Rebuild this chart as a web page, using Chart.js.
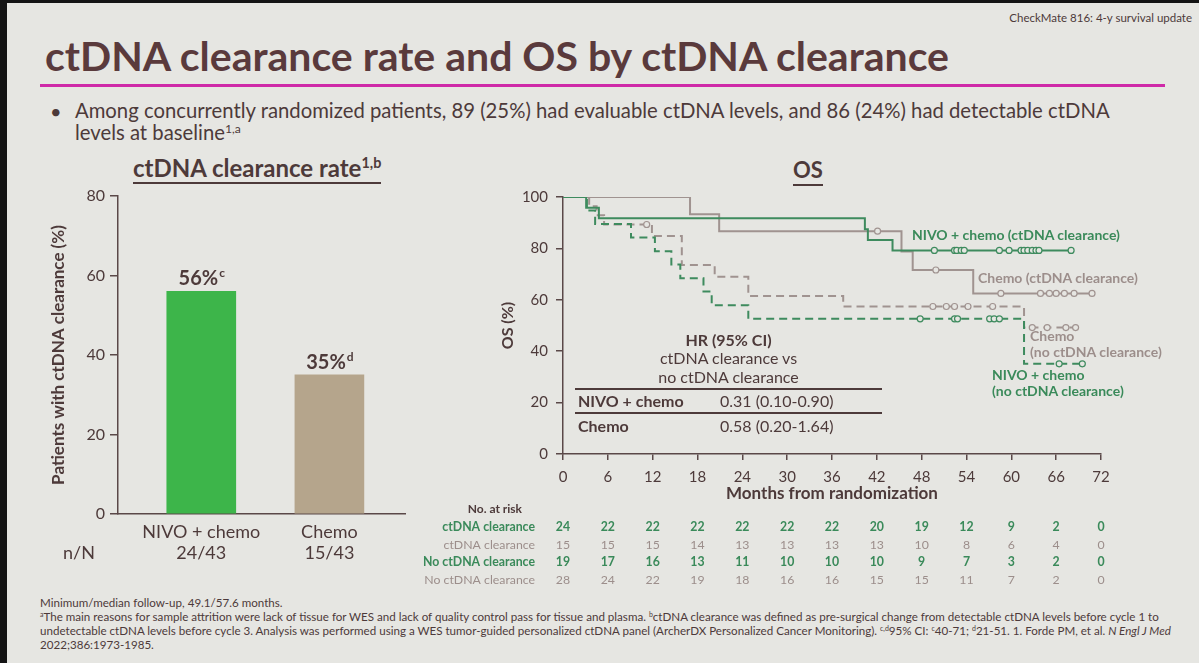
<!DOCTYPE html>
<html>
<head>
<meta charset="utf-8">
<script src="https://cdn.jsdelivr.net/npm/chart.js@4.4.0/dist/chart.umd.min.js"></script>
<style>
  body { margin: 0; width: 1199px; height: 663px; overflow: hidden; background: #141414; font-family: Lato, "Noto Sans", sans-serif; color: #4d3a3a; }
  #slide { position: absolute; left: 7px; top: 3px; width: 1192px; height: 660px; background: #e6e6e2; }
  .abs { position: absolute; white-space: nowrap; }
  sup { font-size: 0.6em; vertical-align: 0.6em; line-height: 0; }
  .green { color: #3a8a5a; }
  .gray { color: #9c8e8b; }
  .fn { position: absolute; left: 40px; white-space: nowrap; font-size: 11.6px; line-height: 14px; }
</style>
</head>
<body>
<div id="slide"></div>

<!-- header -->
<div class="abs" style="right:7px; top:11px; font-size:11.5px;">CheckMate 816: 4-y survival update</div>
<div class="abs" style="left:45px; top:32px; font-size:41px; line-height:48px; font-weight:bold; color:#5a3a3c;">ctDNA clearance rate and OS by ctDNA clearance</div>
<div class="abs" style="left:40px; top:84px; width:1125px; height:3px; background:#cf2aa8;"></div>
<div class="abs" style="left:50px; top:99px; font-size:20px;">•</div>
<div class="abs" style="left:75px; top:99px; font-size:20.3px; line-height:22px; white-space:normal; width:1050px;">Among concurrently randomized patients, 89 (25%) had evaluable ctDNA levels, and 86 (24%) had detectable ctDNA levels at baseline<sup>1,a</sup></div>

<!-- panel headings -->
<div class="abs" style="left:133px; top:153px; font-size:24px; font-weight:bold; border-bottom:2px solid #4d3a3a; padding-bottom:0;">ctDNA clearance rate<sup>1,b</sup></div>
<div class="abs" style="left:793px; top:156px; font-size:22px; font-weight:bold; border-bottom:2px solid #4d3a3a; padding-bottom:1px;">OS</div>

<!-- charts -->
<canvas id="barCanvas" class="abs" style="left:0; top:150px;" width="420" height="420"></canvas>
<canvas id="kmCanvas" class="abs" style="left:420px; top:180px;" width="779" height="420"></canvas>
<div class="abs" style="left:63px; top:541px; font-size:18px;">n/N</div>

<!-- curve labels -->
<div class="abs green" style="left:912px; top:226px; font-size:14px; font-weight:bold;">NIVO + chemo (ctDNA clearance)</div>
<div class="abs gray" style="left:978px; top:269px; font-size:14px; font-weight:bold;">Chemo (ctDNA clearance)</div>
<div class="abs gray" style="left:1030px; top:328px; font-size:14px; line-height:16px; font-weight:bold;">Chemo<br>(no ctDNA clearance)</div>
<div class="abs green" style="left:992px; top:367px; font-size:14px; line-height:16px; font-weight:bold;">NIVO + chemo<br>(no ctDNA clearance)</div>

<!-- HR table -->
<div class="abs" style="left:575px; top:330px; width:307px; height:110px; font-size:16px;">
  <div class="abs" style="left:0; width:307px; top:0; text-align:center; font-weight:bold;">HR (95% CI)</div>
  <div class="abs" style="left:0; width:307px; top:18px; text-align:center;">ctDNA clearance vs</div>
  <div class="abs" style="left:0; width:307px; top:37px; text-align:center;">no ctDNA clearance</div>
  <div class="abs" style="left:0; width:307px; top:58px; height:1.5px; background:#4d3a3a;"></div>
  <div class="abs" style="left:3px; top:61px; font-weight:bold;">NIVO + chemo</div>
  <div class="abs" style="left:145px; top:61px;">0.31 (0.10-0.90)</div>
  <div class="abs" style="left:0; width:307px; top:82px; height:1.5px; background:#4d3a3a;"></div>
  <div class="abs" style="left:3px; top:86px; font-weight:bold;">Chemo</div>
  <div class="abs" style="left:145px; top:86px;">0.58 (0.20-1.64)</div>
</div>

<!-- footnotes -->
<div class="fn" style="top:596px;">Minimum/median follow-up, 49.1/57.6 months.</div>
<div class="fn" style="top:610px;"><sup>a</sup>The main reasons for sample attrition were lack of tissue for WES and lack of quality control pass for tissue and plasma. <sup>b</sup>ctDNA clearance was defined as pre-surgical change from detectable ctDNA levels before cycle 1 to</div>
<div class="fn" style="top:624px;">undetectable ctDNA levels before cycle 3. Analysis was performed using a WES tumor-guided personalized ctDNA panel (ArcherDX Personalized Cancer Monitoring). <sup>c,d</sup>95% CI: <sup>c</sup>40-71; <sup>d</sup>21-51. 1. Forde PM, et al. <i>N Engl J Med</i></div>
<div class="fn" style="top:638px;">2022;386:1973-1985.</div>

<script>
// Colours
const textColor = '#4d3a3a';
const axisColor = '#5a4848';
const curveGreen = '#3e8b5e';
const curveGray = '#a09390';

// Bar chart data
const barCategories = ['NIVO + chemo', 'Chemo'];
const barCounts = ['24/43', '15/43'];
const barValues = [56, 35];
const barLabels = ['56%', '35%'];
const barLabelSups = ['c', 'd'];
const barColors = ['#3db54a', '#b5a58c'];

// KM curves (months, OS %)
const nivoClearT = [0, 3.1, 4.8, 40.4, 40.8, 44.1, 68];
const nivoClearS = [100, 95.8, 91.7, 87.5, 83.3, 79.2, 79.2];
const chemoClearT = [0, 17, 20.9, 45.3, 46.8, 54.9, 71];
const chemoClearS = [100, 93.3, 86.7, 78.8, 71.6, 62.5, 62.5];
const nivoNoT = [0, 3.2, 4.3, 9.1, 12.3, 14.5, 15.7, 18.8, 19.9, 24.8, 61.7, 69.5];
const nivoNoS = [100, 94.7, 89.5, 84.2, 78.9, 73.7, 68.4, 63.2, 57.9, 52.6, 35.1, 35.1];
const chemoNoT = [0, 3.5, 4.5, 5.5, 11.9, 15.9, 20.3, 24.8, 37.5, 61.7, 68.8];
const chemoNoS = [100, 96.4, 92.9, 89.3, 84.8, 73.5, 69.0, 61.5, 57.4, 49.2, 49.2];

// Censoring times
const nivoClearCens = [49.7, 52.4, 52.7, 53.3, 53.7, 58.4, 59.7, 61.3, 61.7, 62.2, 62.8, 63.3, 63.7, 68.0];
const chemoClearCens = [42.1, 49.9, 58.6, 63.9, 65.1, 66.0, 67.1, 68.4, 70.8];
const nivoNoCens = [47.8, 52.4, 52.8, 57.1, 57.7, 58.4, 66.4, 69.5];
const chemoNoCens = [11.2, 49.5, 51.3, 52.4, 54.2, 57.5, 62.8, 64.8, 67.3, 68.6];

// Number at risk
const riskTimes = [0, 6, 12, 18, 24, 30, 36, 42, 48, 54, 60, 66, 72];
const riskNivoClear = [24, 22, 22, 22, 22, 22, 22, 20, 19, 12, 9, 2, 0];
const riskChemoClear = [15, 15, 15, 14, 13, 13, 13, 13, 10, 8, 6, 4, 0];
const riskNivoNo = [19, 17, 16, 13, 11, 10, 10, 10, 9, 7, 3, 2, 0];
const riskChemoNo = [28, 24, 22, 19, 18, 16, 16, 15, 15, 11, 7, 2, 0];

// Value labels above bars
const barLabelPlugin = {
    id: 'barLabels',
    afterDatasetsDraw(chart) {
        const ctx = chart.ctx;
        const meta = chart.getDatasetMeta(0);
        ctx.save();
        ctx.fillStyle = textColor;
        ctx.textBaseline = 'alphabetic';
        meta.data.forEach((bar, i) => {
            ctx.font = 'bold 20px Lato';
            const w = ctx.measureText(barLabels[i]).width;
            ctx.font = 'bold 12px Lato';
            const ws = ctx.measureText(barLabelSups[i]).width;
            const x0 = bar.x - (w + ws) / 2;
            ctx.font = 'bold 20px Lato';
            ctx.textAlign = 'left';
            ctx.fillText(barLabels[i], x0, bar.y - 6);
            ctx.font = 'bold 12px Lato';
            ctx.fillText(barLabelSups[i], x0 + w + 1, bar.y - 14);
        });
        ctx.restore();
    }
};

new Chart(document.getElementById('barCanvas'), {
    type: 'bar',
    data: {
        datasets: [{
            data: barValues.map((v, i) => ({ x: i + 1, y: v })),
            backgroundColor: barColors,
            barThickness: 69
        }]
    },
    options: {
        responsive: false,
        animation: false,
        layout: { padding: { top: 46, right: 15, bottom: 0, left: 0 } },
        plugins: { legend: { display: false }, tooltip: { enabled: false } },
        scales: {
            x: {
                type: 'linear',
                min: 0.35,
                max: 2.59,
                offset: false,
                grid: { display: false, drawTicks: false },
                border: { color: axisColor, width: 1.5 },
                afterBuildTicks: s => { s.ticks = barCategories.map((c, i) => ({ value: i + 1 })); },
                ticks: {
                    callback: v => [barCategories[v - 1], barCounts[v - 1]],
                    color: textColor,
                    font: { family: 'Lato', size: 18 },
                    padding: 7,
                    autoSkip: false,
                    maxRotation: 0
                },
                afterFit: s => { s.height = 56; }
            },
            y: {
                min: 0,
                max: 80,
                ticks: { stepSize: 20, color: textColor, font: { family: 'Lato', size: 16 }, padding: 5 },
                grid: { drawOnChartArea: false, tickLength: 8, color: axisColor, lineWidth: 1.5 },
                border: { color: axisColor, width: 1.5 },
                title: {
                    display: true,
                    text: 'Patients with ctDNA clearance (%)',
                    color: textColor,
                    font: { family: 'Lato', size: 17, weight: 'bold' },
                    padding: { top: 48, bottom: 0 }
                },
                afterFit: s => { s.width = 118; }
            }
        }
    },
    plugins: [barLabelPlugin]
});

// Survival value at time t for a step curve
function survivalAt(times, surv, t) {
    let s = surv[0];
    times.forEach((tt, i) => { if (tt <= t) s = surv[i]; });
    return s;
}

function kmLine(times, surv, color, dash) {
    return {
        data: times.map((t, i) => ({ x: t, y: surv[i] })),
        borderColor: color,
        borderWidth: 2,
        borderDash: dash,
        stepped: true,
        pointRadius: 0,
        fill: false
    };
}

function censorSet(cens, times, surv, color) {
    return {
        data: cens.map(t => ({ x: t, y: survivalAt(times, surv, t) })),
        showLine: false,
        pointRadius: 3,
        pointBorderWidth: 1.2,
        pointBorderColor: color,
        pointBackgroundColor: '#e6e6e2'
    };
}

// Number at risk table under the x axis
const riskRows = [
    { label: 'ctDNA clearance', values: riskNivoClear, color: '#3a8a5a', bold: true },
    { label: 'ctDNA clearance', values: riskChemoClear, color: '#9c8e8b', bold: false },
    { label: 'No ctDNA clearance', values: riskNivoNo, color: '#3a8a5a', bold: true },
    { label: 'No ctDNA clearance', values: riskChemoNo, color: '#9c8e8b', bold: false }
];

const riskPlugin = {
    id: 'riskTable',
    afterDraw(chart) {
        const ctx = chart.ctx;
        const xs = chart.scales.x;
        ctx.save();
        ctx.textBaseline = 'middle';
        ctx.fillStyle = textColor;
        ctx.font = 'bold 12px Lato';
        ctx.textAlign = 'right';
        ctx.fillText('No. at risk', 102, 329);
        riskRows.forEach((row, r) => {
            const y = 347 + r * 17.7;
            ctx.fillStyle = row.color;
            ctx.font = (row.bold ? 'bold ' : '') + '12.3px Lato';
            ctx.textAlign = 'right';
            ctx.fillText(row.label, 115, y);
            ctx.textAlign = 'center';
            row.values.forEach((v, i) => ctx.fillText(v, xs.getPixelForValue(riskTimes[i]), y));
        });
        ctx.restore();
    }
};

new Chart(document.getElementById('kmCanvas'), {
    type: 'line',
    data: {
        datasets: [
            censorSet(nivoClearCens, nivoClearT, nivoClearS, curveGreen),
            censorSet(chemoClearCens, chemoClearT, chemoClearS, curveGray),
            censorSet(nivoNoCens, nivoNoT, nivoNoS, curveGreen),
            censorSet(chemoNoCens, chemoNoT, chemoNoS, curveGray),
            kmLine(nivoClearT, nivoClearS, curveGreen, []),
            kmLine(chemoClearT, chemoClearS, curveGray, []),
            kmLine(nivoNoT, nivoNoS, curveGreen, [8, 5]),
            kmLine(chemoNoT, chemoNoS, curveGray, [8, 5])
        ]
    },
    options: {
        responsive: false,
        animation: false,
        layout: { padding: { top: 14, right: 98, bottom: 96, left: 0 } },
        plugins: { legend: { display: false }, tooltip: { enabled: false } },
        scales: {
            x: {
                type: 'linear',
                min: 0,
                max: 72,
                ticks: { stepSize: 6, color: textColor, font: { family: 'Lato', size: 15 }, padding: 8 },
                grid: { drawOnChartArea: false, tickLength: 6, color: axisColor, lineWidth: 1.5 },
                border: { color: axisColor, width: 1.5 },
                title: {
                    display: true,
                    text: 'Months from randomization',
                    color: textColor,
                    font: { family: 'Lato', size: 17, weight: 'bold' },
                    padding: 0
                },
                afterFit: s => { s.height = 50; }
            },
            y: {
                min: 0,
                max: 100,
                ticks: { stepSize: 20, color: textColor, font: { family: 'Lato', size: 15 }, padding: 8 },
                grid: { drawOnChartArea: false, tickLength: 7, color: axisColor, lineWidth: 1.5 },
                border: { color: axisColor, width: 1.5 },
                title: {
                    display: true,
                    text: 'OS (%)',
                    color: textColor,
                    font: { family: 'Lato', size: 16, weight: 'bold' },
                    padding: { top: 78, bottom: 0 }
                },
                afterFit: s => { s.width = 143; }
            }
        }
    },
    plugins: [riskPlugin]
});
</script>
</body>
</html>
